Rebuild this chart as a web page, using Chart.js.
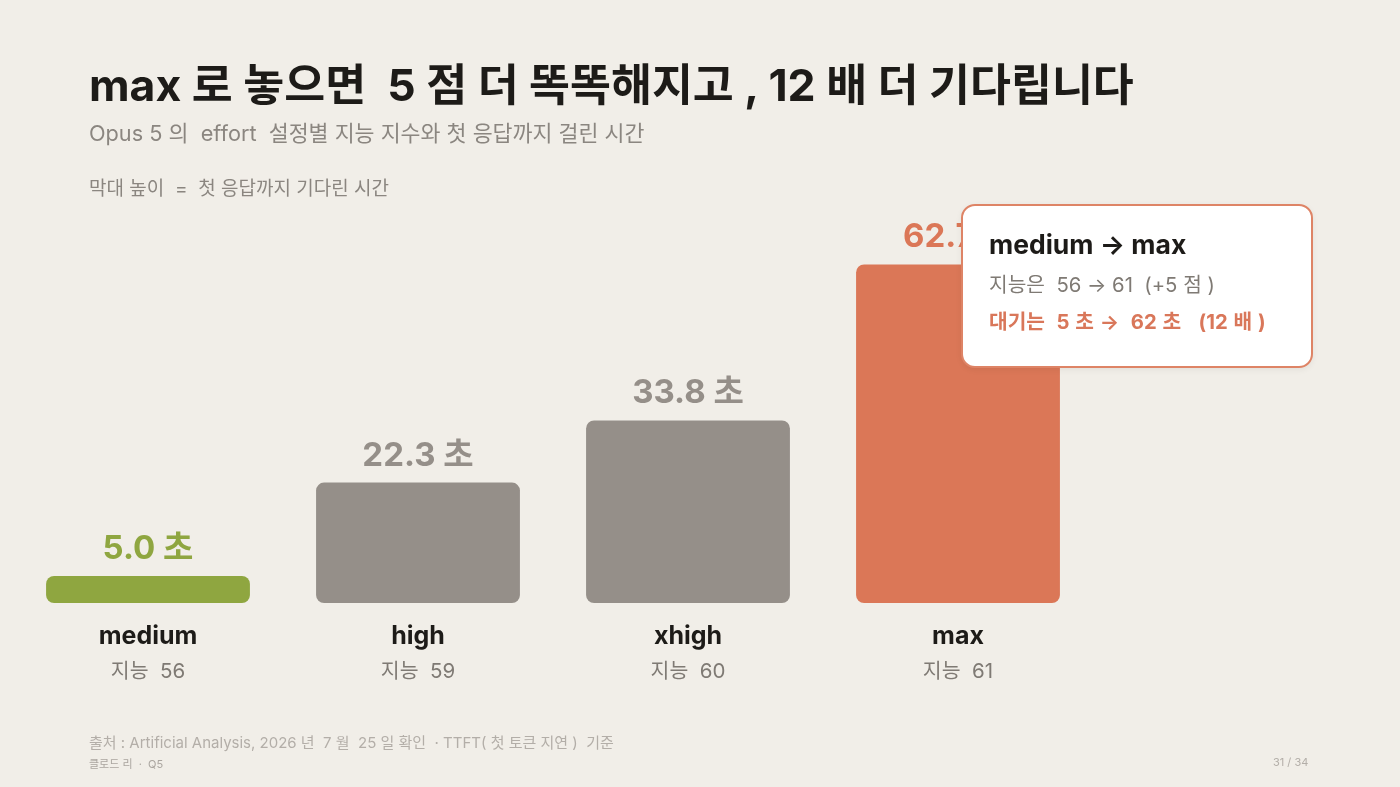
<!DOCTYPE html>
<html lang="ko">
<head>
<meta charset="utf-8">
<script src="https://cdn.jsdelivr.net/npm/chart.js@4"></script>
<style>
  html, body { margin: 0; padding: 0; background: #f1eee8; }
  body { width: 1400px; height: 787px; position: relative; overflow: hidden;
         font-family: "Inter", "Noto Sans CJK KR", sans-serif; }
  #chart { position: absolute; left: 0; top: 0; }
  .txt { position: absolute; white-space: pre; }
  #title { left: 89px; top: 49px; font-size: 44.5px; font-weight: 700; color: #1d1b18; }
  #subtitle { left: 89px; top: 116px; font-size: 21.7px; color: #8b8680; }
  #note { left: 89px; top: 173px; font-size: 19px; color: #8b8680; }
  #source { left: 89px; top: 731px; font-size: 15px; color: #b3aea8; }
  #author { left: 89px; top: 755px; font-size: 11px; color: #aaa59f; }
  #page { left: 1273px; top: 755px; font-size: 11px; color: #b3aea8; }
  #callout { position: absolute; left: 961px; top: 204px; width: 348px; height: 160px;
             background: #fff; border: 2px solid #de8466; border-radius: 14px;
             box-shadow: 0 2px 6px rgba(0,0,0,0.06); }
  #callout .h { position: absolute; left: 26px; top: 22px; font-size: 26.5px; font-weight: 700; color: #1d1b18; }
  #callout .a { position: absolute; left: 26px; top: 62px; font-size: 20.3px; color: #7f7a74; }
  #callout .b { position: absolute; left: 26px; top: 99px; font-size: 20.3px; font-weight: 700; color: #d9775a; word-spacing: 1px; }
</style>
</head>
<body>
<canvas id="chart" width="1400" height="787"></canvas>
<div class="txt" id="title">max 로 놓으면  5 점 더 똑똑해지고 , 12 배 더 기다립니다</div>
<div class="txt" id="subtitle">Opus 5 의  effort  설정별 지능 지수와 첫 응답까지 걸린 시간</div>
<div class="txt" id="note">막대 높이  =  첫 응답까지 기다린 시간</div>
<div id="callout">
  <div class="txt h">medium → max</div>
  <div class="txt a">지능은  56 → 61  (+5 점 )</div>
  <div class="txt b">대기는  5 초 →  62 초   (12 배 )</div>
</div>
<div class="txt" id="source">출처 : Artificial Analysis, 2026 년  7 월  25 일 확인  · TTFT( 첫 토큰 지연 )  기준</div>
<div class="txt" id="author">클로드 리  ·  Q5</div>
<div class="txt" id="page">31 / 34</div>
<script>
const efforts = ['medium', 'high', 'xhigh', 'max'];
const waitSeconds = [5.0, 22.3, 33.8, 62.7];
const intelligence = [56, 59, 60, 61];
const barColors = ['#8fa640', '#958f89', '#958f89', '#db7757'];
const labelColors = ['#8fa640', '#958f89', '#958f89', '#db7757'];

const FONT = '"Inter", "Noto Sans CJK KR", sans-serif';

const barLabels = {
  id: 'barLabels',
  afterDatasetsDraw(chart) {
    const ctx = chart.ctx;
    const meta = chart.getDatasetMeta(0);
    const xScale = chart.scales.x;
    ctx.save();
    ctx.textAlign = 'center';
    ctx.textBaseline = 'middle';
    meta.data.forEach((bar, i) => {
      ctx.fillStyle = labelColors[i];
      ctx.font = `700 33px ${FONT}`;
      ctx.fillText(`${waitSeconds[i].toFixed(1)} 초`, bar.x, bar.y - 27);
    });
    efforts.forEach((name, i) => {
      const x = xScale.getPixelForValue(i);
      ctx.fillStyle = '#1d1b18';
      ctx.font = `700 25px ${FONT}`;
      ctx.fillText(name, x, 636);
      ctx.fillStyle = '#7f7a74';
      ctx.font = `400 20.5px ${FONT}`;
      ctx.fillText(`지능  ${intelligence[i]}`, x, 672);
    });
    ctx.restore();
  }
};

new Chart(document.getElementById('chart').getContext('2d'), {
  type: 'bar',
  data: {
    labels: efforts,
    datasets: [{
      data: waitSeconds,
      backgroundColor: barColors,
      borderRadius: 8,
      borderSkipped: false,
      barPercentage: 0.755,
      categoryPercentage: 1
    }]
  },
  options: {
    responsive: false,
    animation: false,
    layout: { padding: { left: 13, right: 307, top: 225, bottom: 184 } },
    plugins: { legend: { display: false }, tooltip: { enabled: false } },
    scales: {
      x: { display: false },
      y: { display: false, min: 0, max: 70 }
    }
  },
  plugins: [barLabels]
});
</script>
</body>
</html>
